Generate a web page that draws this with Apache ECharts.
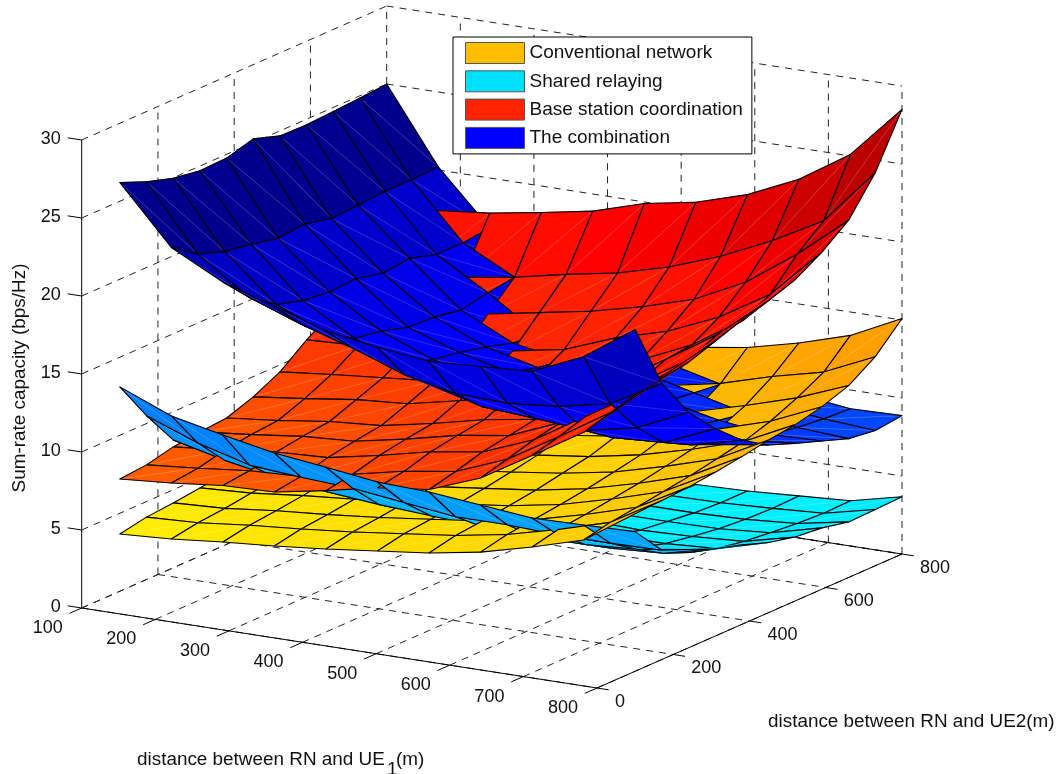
<!DOCTYPE html>
<html><head><meta charset="utf-8">
<style>html,body{margin:0;padding:0;background:#fff}#c{width:1057px;height:774px}</style>
<script src="https://cdn.jsdelivr.net/npm/echarts@6/dist/echarts.min.js"></script>
</head><body><div id="c"></div>
<script>
// ---- data ----
const distance1 = [100,170,240,310,380,450,520,590,660,730,800];
const distance2 = [100,170,240,310,380,450,520,590,660,730,800];
const xTicks = [100,200,300,400,500,600,700,800];
const yTicks = [0,200,400,600,800];
const zTicks = [0,5,10,15,20,25,30];
const seriesNames = ['Conventional network','Shared relaying','Base station coordination','The combination'];
const legendColors = ['#ffbe00','#00e1ff','#ff2300','#0000ff'];
const xTitle = 'distance between RN and UE', xTitleSub = '1', xTitleEnd = '(m)';
const yTitle = 'distance between RN and UE2(m)';
const zTitle = 'Sum-rate capacity (bps/Hz)';

const conventional = [
[3.67,4.0,4.16,4.37,4.6,4.9,5.2,5.7,6.4,7.4,9.0],
[3.86,4.15,4.32,4.55,4.8,5.1,5.42,5.92,6.62,7.62,9.2],
[4.18,4.5,4.68,4.9,5.15,5.45,5.75,6.25,6.95,7.95,9.4],
[4.44,4.78,4.95,5.18,5.42,5.72,6.03,6.53,7.25,8.25,9.7],
[4.76,5.1,5.28,5.5,5.75,6.05,6.36,6.88,7.6,8.6,10],
[5.14,5.5,5.68,5.9,6.15,6.45,6.78,7.3,8.0,9.0,10.5],
[5.53,5.9,6.08,6.3,6.55,6.88,7.2,7.75,8.45,9.5,11.2],
[6.1,6.48,6.68,6.9,7.15,7.48,7.82,8.35,9.1,10.15,11.7],
[6.94,7.32,7.52,7.76,8.02,8.35,8.7,9.25,10.0,11.1,12.5],
[7.9,8.28,8.5,8.75,9.02,9.35,9.7,10.25,11,11.9,13.5],
[10.1,10.2,10.3,10.5,10.75,11.07,11.3,11.7,12.3,13.4,15.1]];

const shared = [
[13.1,10.5,8.2,7.0,6.2,5.6,5.1,4.7,4.3,4.0,3.7],
[11.75,9.26,7.4,6.3,5.6,5.0,4.5,4.1,3.7,3.4,3.2],
[11.04,8.36,6.8,5.8,5.1,4.5,4.0,3.6,3.3,3.0,2.9],
[10.4,8.1,6.4,5.4,4.7,4.1,3.7,3.3,3.0,2.8,2.7],
[10,7.9,6.1,5.1,4.4,3.8,3.4,3.0,2.8,2.6,2.5],
[9.57,7.5,5.9,4.9,4.2,3.6,3.2,2.9,2.6,2.5,2.4],
[9.44,7.1,5.7,4.7,4.0,3.5,3.1,2.8,2.6,2.45,2.4],
[9.12,7.1,5.6,4.6,3.9,3.4,3.0,2.8,2.6,2.5,2.5],
[8.8,6.95,5.6,4.6,3.9,3.4,3.1,2.85,2.7,2.65,2.7],
[8.86,6.95,5.8,4.8,4.1,3.6,3.3,3.1,2.95,2.85,2.9],
[8.95,7.0,6.3,5.6,5.1,4.5,4.1,3.93,3.56,3.6,3.67]];

const coordination = [
[7.2,7.35,7.75,7.96,8.1,8.7,9.55,10.85,12,13.8,17],
[7.45,7.65,8.05,8.3,8.45,9.1,9.9,11,12.4,14,17.4],
[7.8,8.0,8.45,8.7,8.9,9.55,10.2,11.3,12.9,14.4,17.75],
[7.9,8.15,8.6,8.9,9.15,9.8,10.5,11.6,13.3,14.9,18.3],
[8.5,8.8,9.25,9.55,9.8,10.5,11.1,12.2,13.9,15.6,18.9],
[9.2,9.5,10,10.3,10.55,11.3,11.8,12.8,14.5,16.2,19.9],
[9.6,10,10.5,10.8,11.1,11.85,12.7,14.06,15.3,17.1,20.5],
[10.85,11.3,11.8,12.15,12.45,13.2,13.9,15,16.3,18.3,21.5],
[12.8,13.25,13.8,14.15,14.45,15.2,15.4,16.4,17.9,19.8,23.0],
[14.8,15.3,15.8,16.2,16.5,17.3,17.5,18.4,20.2,21.6,25.1],
[17.6,18,18.3,18.9,19.5,20,20.6,21.6,22.9,25.2,28.5]];

const combination = [
[26.2,25.5,24.97,24.7,24.76,25.24,24.68,24.64,24.74,24.85,24.99],
[22.55,21.36,20.78,20.5,20.13,20.3,19.9,20.0,20.14,20.13,20.2],
[20.85,19.1,17.9,17.4,17.2,17.3,16.9,17.1,16.6,16.6,16.8],
[19.8,17.9,16.5,15.5,15.2,14.7,14.6,14.3,14.66,14.9,14.6],
[18.75,16.9,15.3,14.3,13.9,13.6,13.2,12.7,12.5,12.4,12.8],
[18.2,15.7,14.3,13.6,13.2,12.8,12.4,12.1,11.8,11.6,11.5],
[17.8,15.0,13.4,12.7,12.3,12.0,11.7,11.4,11.1,10.9,10.7],
[18.0,14.9,13.2,12.1,11.5,11.1,10.8,10.5,10.3,10.1,9.9],
[18.2,15.2,12.9,11.7,11.0,10.5,10.1,9.8,9.5,9.3,9.2],
[19.65,15.9,13.6,11.9,11.0,10.3,9.8,9.4,9.1,8.9,8.8],
[21.9,17.7,15.1,13.3,11.8,10.75,10.1,9.5,8.9,8.67,8.87]];

const surfaces = [conventional, shared, coordination, combination];
// height -> colour ramps (one per surface)
const ramps = [
 [[3.5,[255,242,0]],[5.5,[255,222,0]],[8,[255,208,0]],[10,[255,192,0]],[12,[255,176,0]],[14,[255,160,0]]],
 [[2.5,[0,242,255]],[4,[0,232,255]],[6,[0,200,255]],[8.5,[0,168,255]],[10,[0,152,255]],[12,[0,128,255]]],
 [[7.5,[255,96,0]],[10,[255,68,0]],[12,[255,48,0]],[16,[255,32,0]],[18.5,[255,15,0]],[20,[255,0,0]],[21.5,[238,0,0]],[23,[224,0,0]],[25,[205,0,0]],[28.5,[188,0,0]]],
 [[9,[0,72,255]],[10,[0,48,255]],[13,[0,0,255]],[15,[0,0,255]],[17,[0,0,235]],[20,[0,0,205]],[22,[0,0,190]],[25,[0,0,140]]]
];
function rampColor(r,z){
  if(z<=r[0][0]) return 'rgb('+r[0][1]+')';
  for(let k=1;k<r.length;k++){ if(z<=r[k][0]){
    const t=(z-r[k-1][0])/(r[k][0]-r[k-1][0]);
    const a=r[k-1][1],b=r[k][1];
    return 'rgb('+[0,1,2].map(c=>Math.round(a[c]+(b[c]-a[c])*t))+')';
  }}
  return 'rgb('+r[r.length-1][1]+')';
}
// ---- orthographic view of the axes box, onto a page-sized plane cartesian ----
const view={ox:81.7,oy:608,xx:515.3/700,xy:80/700,yx:305/800,yy:-134/800,zy:-15.6};
function proj(x,y,z){return [view.ox+(x-100)*view.xx+y*view.yx, view.oy+(x-100)*view.xy+y*view.yy+z*view.zy];}
// the figure's cells are ordered by their plan position only; ties go to the earlier legend entry
function depth(x,y){return 0.46*(x-100)/700-0.78*y/800;}

const layers=surfaces.map(()=>[]), all=[];
surfaces.forEach((M,s)=>{
  for(let i=0;i<distance1.length-1;i++)for(let j=0;j<distance2.length-1;j++){
    const c=[[i,j],[i+1,j],[i+1,j+1],[i,j+1]].map(k=>[distance1[k[0]],distance2[k[1]],M[k[0]][k[1]]]);
    const top=Math.max(c[0][2],c[1][2],c[2][2],c[3][2]);
    const it={s,pts:c.map(p=>proj(p[0],p[1],p[2])),col:rampColor(ramps[s],top),
      d:depth((c[0][0]+c[2][0])/2,(c[0][1]+c[2][1])/2)};
    layers[s].push(it);all.push(it);
  }
});
all.slice().sort((p,q)=>(p.d-q.d)||(q.s-p.s)).forEach((it,k)=>{it.rank=(k+1)*4;});

function drawItem(it,api){
  const p=it.pts.map(q=>api.coord(q));
  const fill={fill:it.col,stroke:it.col,lineWidth:0.6};
  return {type:'group',silent:true,children:[
    {type:'polygon',z2:it.rank,shape:{points:[p[0],p[1],p[2]]},style:fill},
    {type:'polygon',z2:it.rank,shape:{points:[p[0],p[2],p[3]]},style:fill},
    {type:'line',z2:it.rank+1,shape:{x1:p[0][0],y1:p[0][1],x2:p[2][0],y2:p[2][1]},
      style:{stroke:'rgba(255,255,255,0.28)',lineWidth:0.6}},
    {type:'polygon',z2:it.rank+2,shape:{points:p},style:{fill:'none',stroke:'#000',lineWidth:1.1,lineJoin:'round'}}
  ]};
}
// ---- axes box ----
const box=[];
const DASH=[7,6], FONT='18px "Liberation Sans", Arial, sans-serif', TITLE='18.9px "Liberation Sans", Arial, sans-serif', INK='#111';
const ln=(a,b,dash)=>box.push({k:'l',a,b,dash});
const tx=(p,dx,dy,text,align,rot,font)=>box.push({k:'t',p,dx,dy,text:String(text),align,rot,font:font||FONT});
const X0=100,X1=800,Y0=0,Y1=800,Z0=0,Z1=30;
xTicks.forEach(x=>{
  ln(proj(x,Y0,0),proj(x,Y1,0),true);
  if(x>X0) ln(proj(x,Y1,0),proj(x,Y1,Z1),true);
  ln(proj(x,Y0,0),proj(x,-32,0),false);
  tx(proj(x,Y0,0),-34,20,x,'center');
});
yTicks.forEach(y=>{
  ln(proj(X0,y,0),proj(X1,y,0),true);
  if(y>Y0) ln(proj(X0,y,0),proj(X0,y,Z1),true);
  ln(proj(X1,y,0),proj(X1+16,y,0),false);
  tx(proj(X1,y,0),18,14,y,'left');
});
zTicks.forEach(z=>{
  ln(proj(X0,Y0,z),proj(X0,Y1,z),true);
  ln(proj(X0,Y1,z),proj(X1,Y1,z),true);
  ln(proj(X0,Y0,z),proj(X0-19,Y0,z),false);
  tx(proj(X0,Y0,z),-21,-1,z,'right');
});
ln(proj(X0,Y0,0),proj(X1,Y0,0),false);
ln(proj(X1,Y0,0),proj(X1,Y1,0),false);
ln(proj(X1,Y1,0),proj(X0,Y1,0),false);
ln(proj(X0,Y0,0),proj(X0,Y0,Z1),false);
tx([137,760],0,0,xTitle,'left',0,TITLE);
tx([387,770],0,0,xTitleSub,'left',0,TITLE);
tx([396,760],0,0,xTitleEnd,'left',0,TITLE);
tx([768,722],0,0,yTitle,'left',0,TITLE);
tx([20,378],0,0,zTitle,'center',Math.PI/2,TITLE);

function drawBox(params,api){
  const it=box[params.dataIndex];
  if(it.k==='l'){
    const a=api.coord(it.a),b=api.coord(it.b);
    return {type:'line',silent:true,shape:{x1:a[0],y1:a[1],x2:b[0],y2:b[1]},
      style:{stroke:it.dash?'#222':'#000',lineWidth:1,lineDash:it.dash?DASH:null}};
  }
  const p=api.coord(it.p);
  return {type:'text',silent:true,x:p[0]+it.dx,y:p[1]+it.dy,rotation:it.rot||0,
    style:{text:it.text,font:it.font,fill:INK,textAlign:it.align,textVerticalAlign:'middle'}};
}
const chart=echarts.init(document.getElementById('c'),null,{renderer:'canvas'});
chart.setOption({
  animation:false,backgroundColor:'#fff',
  grid:{left:0,right:0,top:0,bottom:0},
  xAxis:{type:'value',min:0,max:1057,show:false},
  yAxis:{type:'value',min:0,max:774,inverse:true,show:false},
  legend:{orient:'vertical',left:453,top:37,padding:[5,9,5,12],itemWidth:59,itemHeight:21,itemGap:6.3,
    selectedMode:false,borderColor:'#000',borderWidth:1,backgroundColor:'#fff',icon:'rect',z:50,
    textStyle:{fontFamily:'"Liberation Sans", Arial, sans-serif',fontSize:19,color:INK},
    data:seriesNames.map((name,i)=>({name,itemStyle:{color:legendColors[i],borderColor:'#555',borderWidth:1}}))},
  series:[{type:'custom',name:'axes',z:1,silent:true,clip:false,progressive:0,coordinateSystem:'cartesian2d',
      data:box.map(()=>[0,0]),renderItem:drawBox}]
    .concat(seriesNames.map((name,s)=>({
      type:'custom',name,z:2,silent:true,clip:false,progressive:0,coordinateSystem:'cartesian2d',
      itemStyle:{color:legendColors[s]},
      data:layers[s].map(it=>it.pts[0]),
      renderItem:(params,api)=>drawItem(layers[s][params.dataIndex],api)
    })))
});
</script></body></html>
